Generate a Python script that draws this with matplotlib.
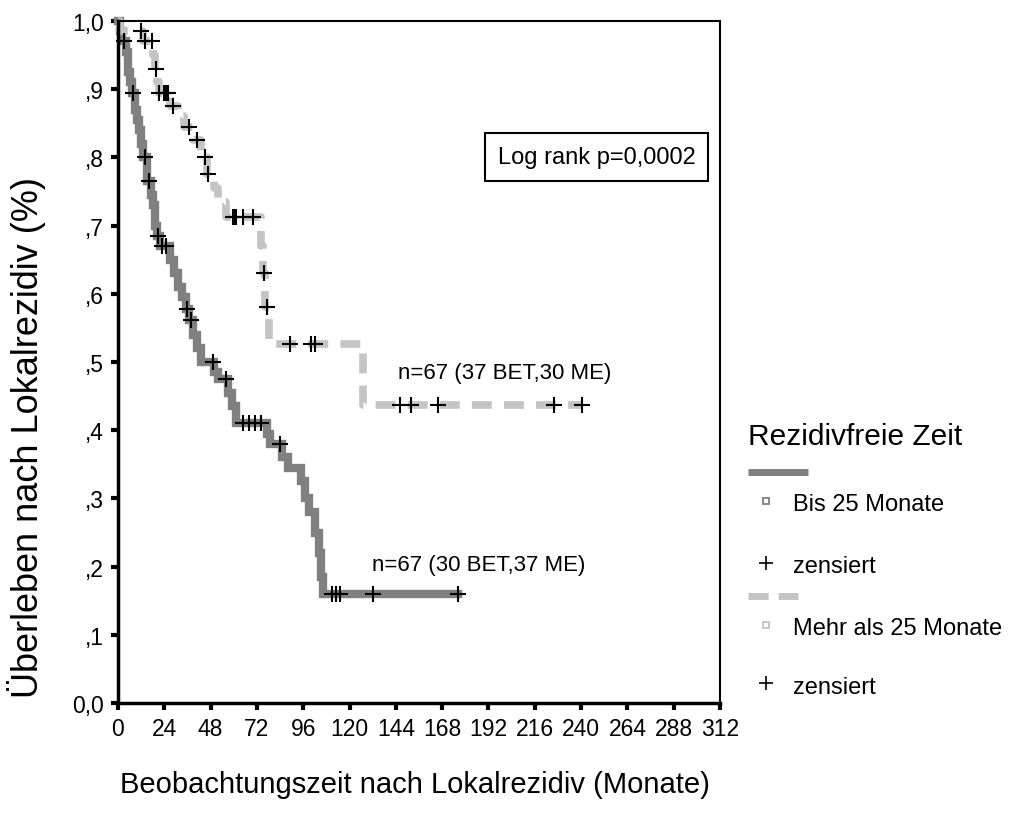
import matplotlib
matplotlib.use("Agg")
import matplotlib.pyplot as plt
import numpy as np

plt.rcParams['font.family'] = ['Liberation Sans', 'DejaVu Sans']

## Kaplan-Meier data ##
# Bis 25 Monate
dark_t = [0, 1, 2, 4, 5, 6, 7, 9, 10, 11, 12, 13, 15, 17, 18, 19, 20, 22, 27, 29,
          31, 33, 35, 37, 39, 41, 43, 50, 52, 57, 59, 61, 77, 79, 85, 88, 95, 97, 99, 102,
          104, 105, 106]
dark_s = [1.0, .985, .97, .955, .925, .91, .895, .87, .855, .84, .82, .80, .765, .745, .73, .70, .685, .67, .65, .63,
          .61, .595, .578, .562, .54, .52, .50, .485, .475, .455, .435, .41, .395, .38, .36, .345, .325, .30, .28, .25,
          .22, .185, .16]
dark_cens = [3, 8, 14, 16, 20.5, 23, 25, 36, 38, 49, 56, 65, 68, 71, 74, 84, 111, 113, 115, 132, 176]

# Mehr als 25 Monate
light_t = [0, 1, 13, 18, 19, 20, 21, 27, 31, 34, 39, 43, 46, 50, 52, 56, 74, 75, 76, 78, 127]
light_s = [1.0, .985, .97, .95, .93, .91, .895, .875, .86, .845, .825, .80, .775, .755, .735, .713,
           .67, .63, .58, .526, .437]
light_cens = [12, 14, 17.5, 19.5, 21.5, 24, 25, 26, 28.5, 37, 41, 45, 46.5, 59.5, 60.5, 61, 65, 70,
              75.5, 77, 89, 100, 102, 146, 152, 166, 226, 240.5]

xticks = np.arange(0, 313, 24)
yticks = np.arange(0, 1.01, 0.1)
ylabels = ["0,0", ",1", ",2", ",3", ",4", ",5", ",6", ",7", ",8", ",9", "1,0"]

DARK = "#808080"
LIGHT = "#c4c4c4"


def km_level(times, surv, t):
    idx = np.searchsorted(times, t, side="right") - 1
    return np.array(surv)[idx]


fig = plt.figure(figsize=(10.12, 8.2), dpi=100)
ax = fig.add_axes([118/1012, 1-704/820, 602/1012, 682/820])

# step curves, extended to the last censored case
dt = dark_t + [max(dark_cens)]
ds = dark_s + [dark_s[-1]]
ax.step(dt, ds, where="post", color=DARK, lw=6, solid_joinstyle="miter", clip_on=False, zorder=2)

lt = light_t + [max(light_cens)]
ls = light_s + [light_s[-1]]
ax.step(lt, ls, where="post", color=LIGHT, lw=5.5, linestyle=(0, (2.6, 1.6)),
        dash_capstyle="butt", clip_on=False, zorder=2)

# censored marks
ax.plot(dark_cens, km_level(dark_t, dark_s, dark_cens), "+", color="black",
        ms=11, mew=1.5, clip_on=False, zorder=3)
ax.plot(light_cens, km_level(light_t, light_s, light_cens), "+", color="black",
        ms=11, mew=1.5, clip_on=False, zorder=3)

ax.set_xlim(0, 312)
ax.set_ylim(0, 1.0)
ax.set_xticks(xticks)
ax.set_xticklabels([str(v) for v in xticks])
ax.set_yticks(yticks)
ax.set_yticklabels(ylabels)
ax.tick_params(direction="out", length=5, width=3, labelsize=16.5, pad=5)
for s in ax.spines.values():
    s.set_linewidth(1.5)
ax.spines["left"].set_linewidth(2.5)
ax.spines["bottom"].set_linewidth(2.5)

ax.text(145, 0.485, "n=67 (37 BET,30 ME)", fontsize=16, va="center", ha="left")
ax.text(131.5, 0.203, "n=67 (30 BET,37 ME)", fontsize=16, va="center", ha="left")
ax.text(248, 0.80, "Log rank p=0,0002", fontsize=17, va="center", ha="center",
        bbox=dict(boxstyle="square,pad=0.55", fc="white", ec="black", lw=1.5))

fig.text(415/1012, 1-785/820, "Beobachtungszeit nach Lokalrezidiv (Monate)",
         fontsize=21, ha="center", va="center")
fig.text(27/1012, 1-437/820, "Überleben nach Lokalrezidiv (%)",
         fontsize=26, ha="center", va="center", rotation=90)

## legend drawn by hand in pixel space ##
lax = fig.add_axes([0, 0, 1, 1], zorder=-1)
lax.set_xlim(0, 1012)
lax.set_ylim(820, 0)
lax.axis("off")
lax.text(748, 437, "Rezidivfreie Zeit", fontsize=21.5, va="center", ha="left")
lax.plot([748, 808], [473, 473], color=DARK, lw=5, solid_capstyle="butt")
lax.plot([766], [502], "s", ms=5, mfc="white", mec=DARK, mew=1.3)
lax.text(793, 505, "Bis 25 Monate", fontsize=17, va="center", ha="left")
lax.plot([766], [564], "+", color="black", ms=10, mew=1.2)
lax.text(793, 567, "zensiert", fontsize=17, va="center", ha="left")
lax.plot([748, 798], [597, 597], color=LIGHT, lw=5, linestyle=(0, (2.9, 1.45)), dash_capstyle="butt")
lax.plot([766], [626], "s", ms=5, mfc="white", mec=LIGHT, mew=1.3)
lax.text(793, 629, "Mehr als 25 Monate", fontsize=17, va="center", ha="left")
lax.plot([766], [684], "+", color="black", ms=10, mew=1.2)
lax.text(793, 688, "zensiert", fontsize=17, va="center", ha="left")

fig.savefig("out.png", dpi=100)
